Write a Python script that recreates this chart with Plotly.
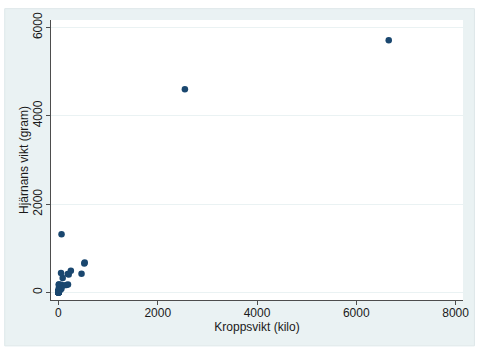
import plotly.graph_objects as go

# Body weight (kg) and brain weight (g) for 62 mammals
body_kg = [3.385, 0.48, 1.35, 465, 36.33, 27.66, 14.83, 1.04, 4.19, 0.425,
           0.101, 0.92, 1, 0.005, 0.06, 3.5, 2, 1.7, 2547, 0.023,
           187.1, 521, 0.785, 10, 3.3, 0.2, 1.41, 529, 207, 85,
           0.75, 62, 6654, 3.5, 6.8, 35, 4.05, 0.12, 0.023, 0.01,
           1.4, 250, 2.5, 55.5, 100, 52.16, 10.55, 0.55, 60, 3.6,
           4.288, 0.28, 0.075, 0.122, 0.048, 192, 3, 160, 0.9, 1.62,
           0.104, 4.235]
brain_g = [44.5, 15.5, 8.1, 423, 119.5, 115, 98.2, 5.5, 58, 6.4,
           4, 5.7, 6.6, 0.14, 1, 10.8, 12.3, 6.3, 4603, 0.3,
           419, 655, 3.5, 115, 25.6, 5, 17.5, 680, 406, 325,
           12.3, 1320, 5712, 3.9, 179, 56, 17, 1, 0.4, 0.25,
           12.5, 490, 12.1, 175, 157, 440, 179.5, 2.4, 81, 21,
           39.2, 1.9, 1.2, 3, 0.33, 180, 25, 169, 2.6, 11.4,
           2.5, 50.4]

x_ticks = [0, 2000, 4000, 6000, 8000]
y_ticks = [0, 2000, 4000, 6000]

BG = "#eaf2f3"
NAVY = "#1a476f"
AXIS = "#4d4d4d"

fig = go.Figure()
fig.add_trace(go.Scatter(
    x=body_kg, y=brain_g, mode="markers",
    marker=dict(color=NAVY, size=6.5, line=dict(width=0)),
    showlegend=False,
))

W, H = 481, 351
L, R, T, B = 51, 16, 16, 51
pw, ph = W - L - R, H - T - B

# white outer border around the light panel (line centred on figure edge)
fig.add_shape(type="rect", xref="paper", yref="paper",
              x0=-L / pw, x1=1 + R / pw, y0=-B / ph, y1=1 + T / ph,
              fillcolor="rgba(0,0,0,0)", line=dict(color="white", width=9),
              layer="above")
# faint edge line of the light panel
fig.add_shape(type="rect", xref="paper", yref="paper",
              x0=-(L - 4.5) / pw, x1=1 + (R - 4.5) / pw,
              y0=-(B - 4.5) / ph, y1=1 + (T - 4.5) / ph,
              fillcolor="rgba(0,0,0,0)", line=dict(color="#dde7e9", width=1),
              layer="above")

fig.update_layout(
    width=W, height=H,
    margin=dict(l=L, r=R, t=T, b=B),
    paper_bgcolor=BG,
    plot_bgcolor="white",
    font=dict(family="Liberation Sans, Arial, sans-serif", size=12, color="#1a1a1a"),
    xaxis=dict(
        range=[-150, 8150], tickvals=x_ticks, ticktext=[str(v) for v in x_ticks],
        showgrid=False, zeroline=False,
        showline=True, linecolor=AXIS, linewidth=1,
        ticks="outside", ticklen=4, tickcolor=AXIS, tickwidth=1,
        ticklabelstandoff=-2,
        title=dict(text="Kroppsvikt (kilo)", standoff=0, font=dict(size=12)),
        tickfont=dict(size=12),
    ),
    yaxis=dict(
        range=[-172, 6170], tickvals=y_ticks, ticktext=[str(v) for v in y_ticks],
        showgrid=True, gridcolor=BG, gridwidth=1, zeroline=False,
        showline=True, linecolor=AXIS, linewidth=1,
        ticks="outside", ticklen=4, tickcolor=AXIS, tickwidth=1,
        tickangle=-90, ticklabelstandoff=-1,
        title=dict(text="Hjärnans vikt (gram)", standoff=0, font=dict(size=12)),
        tickfont=dict(size=12),
    ),
)

fig.write_html("out.html")
